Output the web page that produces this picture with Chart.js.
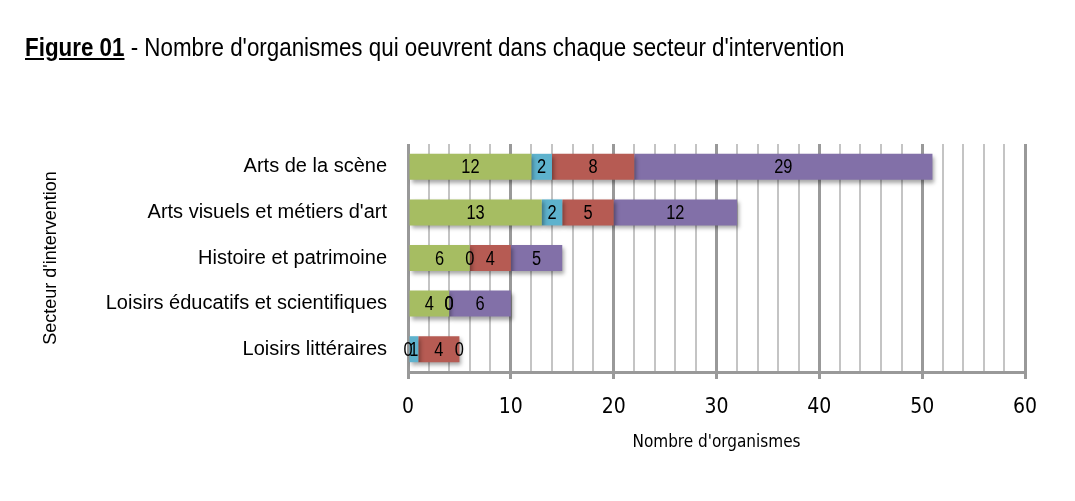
<!DOCTYPE html>
<html lang="fr">
<head>
<meta charset="utf-8">
<script src="https://cdn.jsdelivr.net/npm/chart.js@4.4.1/dist/chart.umd.min.js"></script>
<style>
  html, body { margin: 0; padding: 0; background: #fff; }
  #wrap { position: relative; width: 1075px; height: 501px; }
  #title {
    position: absolute; left: 25px; top: 33px;
    font-family: 'Liberation Sans', Arial, sans-serif;
    font-size: 25px; color: #000; white-space: nowrap;
    transform: scaleX(0.895); transform-origin: 0 0;
  }
  #title b { text-decoration: underline; }
  canvas { position: absolute; left: 0; top: 0; }
</style>
</head>
<body>
<div id="wrap">
  <canvas id="c" width="1075" height="501"></canvas>
  <div id="title"><b>Figure 01</b> - Nombre d'organismes qui oeuvrent dans chaque secteur d'intervention</div>
</div>
<script>
  /* ── données ── */
  const secteurs = ['Arts de la scène', 'Arts visuels et métiers d\'art', 'Histoire et patrimoine',
    'Loisirs éducatifs et scientifiques', 'Loisirs littéraires'];
  const serieVert   = [12, 13, 6, 4, 0];
  const serieBleu   = [2, 2, 0, 0, 1];
  const serieRouge  = [8, 5, 4, 0, 4];
  const serieViolet = [29, 12, 5, 6, 0];
  const ticksX = [0, 10, 20, 30, 40, 50, 60];

  const NARROW = "'Liberation Sans Narrow', 'DejaVu Sans Condensed', sans-serif";
  const ARIAL = "'Liberation Sans', Arial, sans-serif";

  /* ombre sous les barres */
  const shadowPlugin = {
    id: 'shadow',
    beforeDatasetsDraw: function (chart) {
      const ctx = chart.ctx;
      ctx.save();
      ctx.shadowColor = 'rgba(0,0,0,0.35)';
      ctx.shadowBlur = 4;
      ctx.shadowOffsetX = 2;
      ctx.shadowOffsetY = 3;
    },
    afterDatasetsDraw: function (chart) { chart.ctx.restore(); }
  };

  /* étiquettes de valeurs au centre de chaque segment (Arial « étroit » par mise à l'échelle) */
  const labelsPlugin = {
    id: 'valeurs',
    afterDatasetsDraw: function (chart) {
      const ctx = chart.ctx;
      chart.data.datasets.forEach(function (ds, di) {
        chart.getDatasetMeta(di).data.forEach(function (bar, i) {
          const cx = (bar.x + bar.base) / 2;
          ctx.save();
          ctx.translate(cx, bar.y + 1);
          ctx.scale(0.82, 1);
          ctx.font = '20px ' + ARIAL;
          ctx.fillStyle = '#000';
          ctx.textAlign = 'center';
          ctx.textBaseline = 'middle';
          ctx.fillText(String(ds.data[i]), 0, 0);
          ctx.restore();
        });
      });
    }
  };

  const ctx = document.getElementById('c').getContext('2d');
  new Chart(ctx, {
    type: 'bar',
    data: {
      labels: secteurs,
      datasets: [
        { label: 'A', data: serieVert, backgroundColor: '#a6bd62' },
        { label: 'B', data: serieBleu, backgroundColor: '#5eb2cd' },
        { label: 'C', data: serieRouge, backgroundColor: '#b65b53' },
        { label: 'D', data: serieViolet, backgroundColor: '#8270a8' }
      ]
    },
    options: {
      indexAxis: 'y',
      responsive: false,
      animation: false,
      maintainAspectRatio: false,
      layout: { padding: { left: 40, right: 50, top: 144, bottom: 48 } },
      plugins: { legend: { display: false }, tooltip: { enabled: false }, title: { display: false } },
      datasets: { bar: { barPercentage: 0.57, categoryPercentage: 1, borderWidth: 0 } },
      scales: {
        x: {
          stacked: true,
          min: 0, max: 60,
          afterBuildTicks: function (scale) {
            const t = [];
            for (let v = 0; v <= 60; v += 2) t.push({ value: v });
            scale.ticks = t;
          },
          afterFit: function (scale) { scale.height = 81; },
          border: { display: true, color: '#999', width: 3 },
          grid: {
            drawOnChartArea: true,
            color: function (c) { return c.tick && c.tick.value % 10 === 0 ? '#999' : '#c4c4c4'; },
            lineWidth: function (c) { return c.tick && c.tick.value % 10 === 0 ? 3 : 2; },
            tickColor: function (c) { return c.tick && c.tick.value % 10 === 0 ? '#999' : 'rgba(0,0,0,0)'; },
            tickLength: 7
          },
          ticks: {
            autoSkip: false,
            maxRotation: 0,
            padding: 16,
            color: '#000',
            font: { family: NARROW, size: 21 },
            callback: function (v) { return ticksX.indexOf(v) >= 0 ? String(v) : ''; }
          },
          title: {
            display: true, text: "Nombre d'organismes", color: '#000',
            font: { family: NARROW, size: 17 }, padding: { top: 8, bottom: 0 }
          }
        },
        y: {
          stacked: true,
          afterFit: function (scale) { scale.width = 368; },
          border: { display: false },
          grid: { display: false },
          ticks: { color: '#000', padding: 13, font: { family: ARIAL, size: 20 } },
          title: {
            display: true, text: "Secteur d'intervention", color: '#000',
            font: { family: ARIAL, size: 18 }, padding: 0
          }
        }
      }
    },
    plugins: [shadowPlugin, labelsPlugin]
  });
</script>
</body>
</html>
